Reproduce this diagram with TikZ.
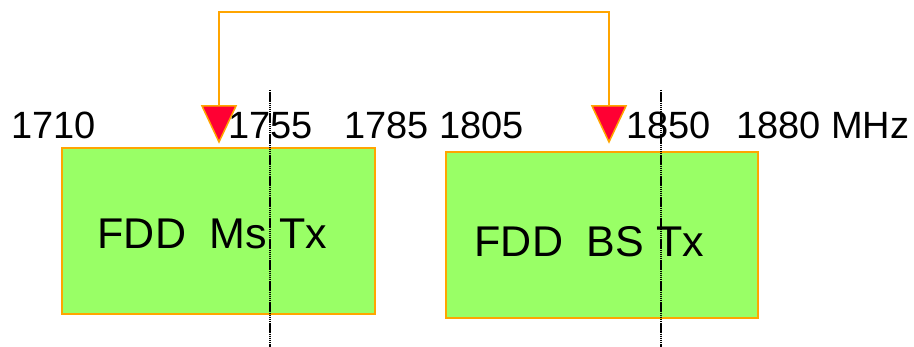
\documentclass[tikz,border=0pt]{standalone}
\usepackage{fontspec}
\setmainfont{Liberation Sans}
\definecolor{boxgreen}{HTML}{99FF66}
\definecolor{edgeorange}{HTML}{FFA500}
\definecolor{tipred}{HTML}{FF0033}
\begin{document}
\begin{tikzpicture}[x=1pt,y=-1pt,
  band/.style={draw=edgeorange, fill=boxgreen, line width=1.5pt, inner sep=0pt},
  freq/.style={inner sep=0pt, anchor=base west, font=\fontsize{38}{42}\selectfont},
  boxtext/.style={inner sep=0pt, anchor=base west, font=\fontsize{43}{47}\selectfont},
  conn/.style={draw=edgeorange, line width=1.5pt},
  tipst/.style={draw=edgeorange, fill=tipred, line width=1.5pt, line join=miter},
  cut/.style={draw=black, line width=1.4pt, dash pattern=on 1.5pt off 0.6pt}]
\useasboundingbox (0,0) rectangle (914,347);
% boxes
\node[band, minimum width=313pt, minimum height=166pt] (ms) at (218.5,231) {};
\node[band, minimum width=312pt, minimum height=166pt] (bs) at (602,235) {};
\node[boxtext] (mst) at (97.5,249) {FDD\ \ Ms Tx};
\node[boxtext] (bst) at (474.5,257) {FDD\ \ BS Tx};
% frequency labels
\node[freq] (f1710) at (11,139) {1710};
\node[freq] (f1755) at (228,139) {1755};
\node[freq] (f1785) at (344,139) {1785};
\node[freq] (f1805) at (439,139) {1805};
\node[freq] (f1850) at (626,139) {1850};
\node[freq] (f1880) at (736,139) {1880 MHz};
% connector
\coordinate (top) at (0,12);
\coordinate (tipL) at (219,106);
\coordinate (tipR) at (609,106);
\draw[conn] (tipL) -- (tipL |- top) -- (tipR |- top) -- (tipR);
\filldraw[tipst] (tipL) ++(-17,0) -- ++(34,0) -- ++(-17,36) -- cycle;
\filldraw[tipst] (tipR) ++(-17,0) -- ++(34,0) -- ++(-17,36) -- cycle;
% cut lines
\coordinate (cutLt) at (270,90);
\coordinate (cutLb) at (270,347);
\coordinate (cutRt) at (661,90);
\coordinate (cutRb) at (661,347);
\draw[cut] (cutLt) -- (cutLb);
\draw[cut] (cutRt) -- (cutRb);
\end{tikzpicture}
\end{document}
